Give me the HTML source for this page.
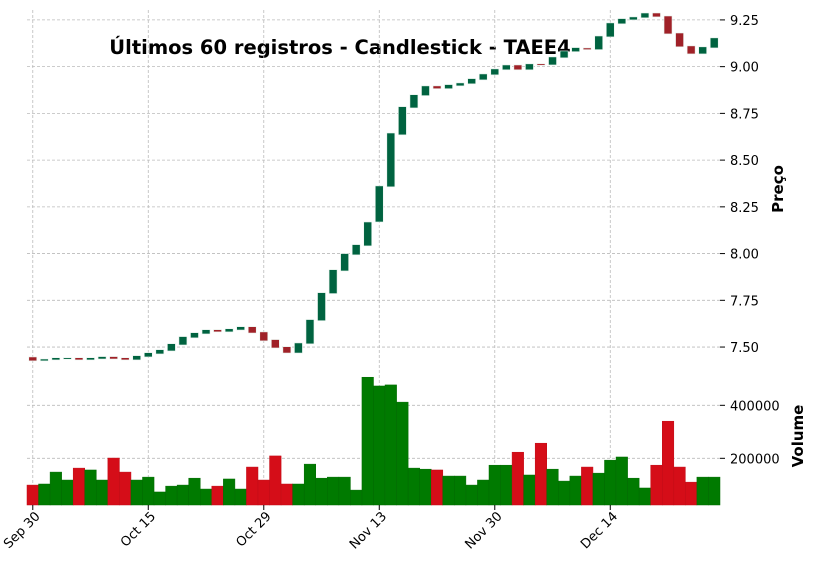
<!DOCTYPE html>
<html><head><meta charset="utf-8"><style>
html,body{margin:0;padding:0;background:#fff;}
svg{display:block;font-family:"DejaVu Sans","Liberation Sans",sans-serif;}
</style></head><body>
<svg id="chart" width="816" height="570" viewBox="0 0 816 570">
<text x="340" y="54" text-anchor="middle" font-size="19.5" font-weight="bold">Últimos 60 registros - Candlestick - TAEE4</text>
<text transform="translate(783,189) rotate(-90)" text-anchor="middle" font-size="15" font-weight="bold">Preço</text>
<text transform="translate(803,436) rotate(-90)" text-anchor="middle" font-size="15" font-weight="bold">Volume</text>
<g id="grid"></g><g id="vol"></g><g id="candles"></g><g id="axes"></g>
</svg>
<script>
const opens=[7.447,7.426,7.431,7.436,7.443,7.431,7.436,7.449,7.443,7.431,7.447,7.463,7.479,7.511,7.549,7.570,7.593,7.581,7.591,7.609,7.581,7.540,7.502,7.468,7.517,7.641,7.786,7.907,7.993,8.041,8.169,8.357,8.635,8.779,8.845,8.897,8.882,8.897,8.908,8.929,8.956,8.983,9.009,8.983,9.015,9.009,9.047,9.080,9.100,9.091,9.159,9.229,9.250,9.261,9.287,9.271,9.180,9.111,9.068,9.100];
const closes=[7.426,7.436,7.443,7.443,7.431,7.443,7.449,7.436,7.431,7.454,7.470,7.486,7.518,7.556,7.577,7.593,7.581,7.598,7.609,7.575,7.533,7.495,7.468,7.522,7.647,7.791,7.914,8.000,8.048,8.169,8.362,8.645,8.786,8.850,8.897,8.882,8.904,8.913,8.936,8.961,8.988,9.009,8.983,9.015,9.009,9.052,9.084,9.102,9.091,9.164,9.234,9.257,9.266,9.287,9.266,9.175,9.106,9.068,9.106,9.154];
const volumes=[99000,103000,148000,118000,163000,156000,118000,201000,148000,118000,129000,73000,95000,99000,125000,84000,95000,122000,84000,167000,118000,209000,103000,103000,178000,125000,129000,129000,80000,506000,473000,477000,412000,163000,159000,156000,133000,133000,99000,118000,174000,174000,223000,137000,257000,159000,114000,133000,167000,144000,193000,205000,125000,88000,174000,340000,167000,110000,129000,129000];
const volUp=[0,1,1,1,0,1,1,0,0,1,1,1,1,1,1,1,0,1,1,0,0,0,0,1,1,1,1,1,1,1,1,1,1,1,1,0,1,1,1,1,1,1,0,1,0,1,1,1,0,1,1,1,1,1,0,0,0,0,1,1];
const xTickIdx=[0,10,20,30,40,50];
const xTickLabels=["Sep 30","Oct 15","Oct 29","Nov 13","Nov 30","Dec 14"];
const priceTicks=[7.50,7.75,8.00,8.25,8.50,8.75,9.00,9.25];
const volTicks=[200000,400000];

const NS="http://www.w3.org/2000/svg";
const L=27,R=720,PT=10,PB=362,VT=363,VB=505;
const pMin=7.420,pMax=9.303,vMin=23800,vMax=559700;
const step=(R-L)/60;
const xS=i=>L+step*(i+0.5);
const yP=p=>PB-(p-pMin)/(pMax-pMin)*(PB-PT);
const yV=v=>VB-(v-vMin)/(vMax-vMin)*(VB-VT);
function mk(tag,attrs,parent){const e=document.createElementNS(NS,tag);for(const k in attrs)e.setAttribute(k,attrs[k]);document.getElementById(parent).appendChild(e);return e;}
xTickIdx.forEach(i=>{
  const g=mk('line',{x1:xS(i),x2:xS(i),y1:PT,y2:VB,stroke:'#bbb','stroke-width':0.8,'stroke-dasharray':'3,2'},'grid');
  
  
});
priceTicks.forEach(p=>{
  const g=mk('line',{x1:L,x2:R,y1:yP(p),y2:yP(p),stroke:'#bbb','stroke-width':0.8,'stroke-dasharray':'3,2'},'grid');
  
  
  const t=mk('line',{x1:R,x2:R+5,y1:yP(p),y2:yP(p),stroke:'#000','stroke-width':1},'axes');
  
  
  const l=mk('text',{x:R+10,y:yP(p)+5,'font-size':13},'axes');l.textContent=p.toFixed(2);
  
  
});
volTicks.forEach(v=>{
  const g=mk('line',{x1:L,x2:R,y1:yV(v),y2:yV(v),stroke:'#bbb','stroke-width':0.8,'stroke-dasharray':'3,2'},'grid');
  
  
  const t=mk('line',{x1:R,x2:R+5,y1:yV(v),y2:yV(v),stroke:'#000','stroke-width':1},'axes');
  
  
  const l=mk('text',{x:R+10,y:yV(v)+5,'font-size':13},'axes');l.textContent=String(v);
  
  
});
xTickIdx.forEach((i,k)=>{
  const t=mk('line',{x1:xS(i),x2:xS(i),y1:VB,y2:VB+5,stroke:'#000','stroke-width':1},'axes');
  
  
  const x=xS(i)+8,y=VB+12;
  const l=mk('text',{x:x,y:y,'font-size':13,'text-anchor':'end',transform:`rotate(-45 ${x} ${y})`},'axes');
  l.textContent=xTickLabels[k];
  
  
});
volumes.forEach((v,i)=>{
  const y=yV(v);
  const b=mk('rect',{x:xS(i)-step/2,y:y,width:step,height:VB-y,fill:volUp[i]?'#007a00':'#d50d18',stroke:volUp[i]?'#006a00':'#c00c16','stroke-width':0.5},'vol');
  
  
});
opens.forEach((o,i)=>{
  const c=closes[i],up=c>=o;
  const y1=yP(Math.max(o,c)),y2=yP(Math.min(o,c));
  const b=mk('rect',{x:xS(i)-4,y:y1,width:8,height:Math.max(1.5,y2-y1),fill:up?'#006340':'#a02128',stroke:'#e8f4ee','stroke-width':0.6},'candles');
  
  
});
</script>
</body></html>
